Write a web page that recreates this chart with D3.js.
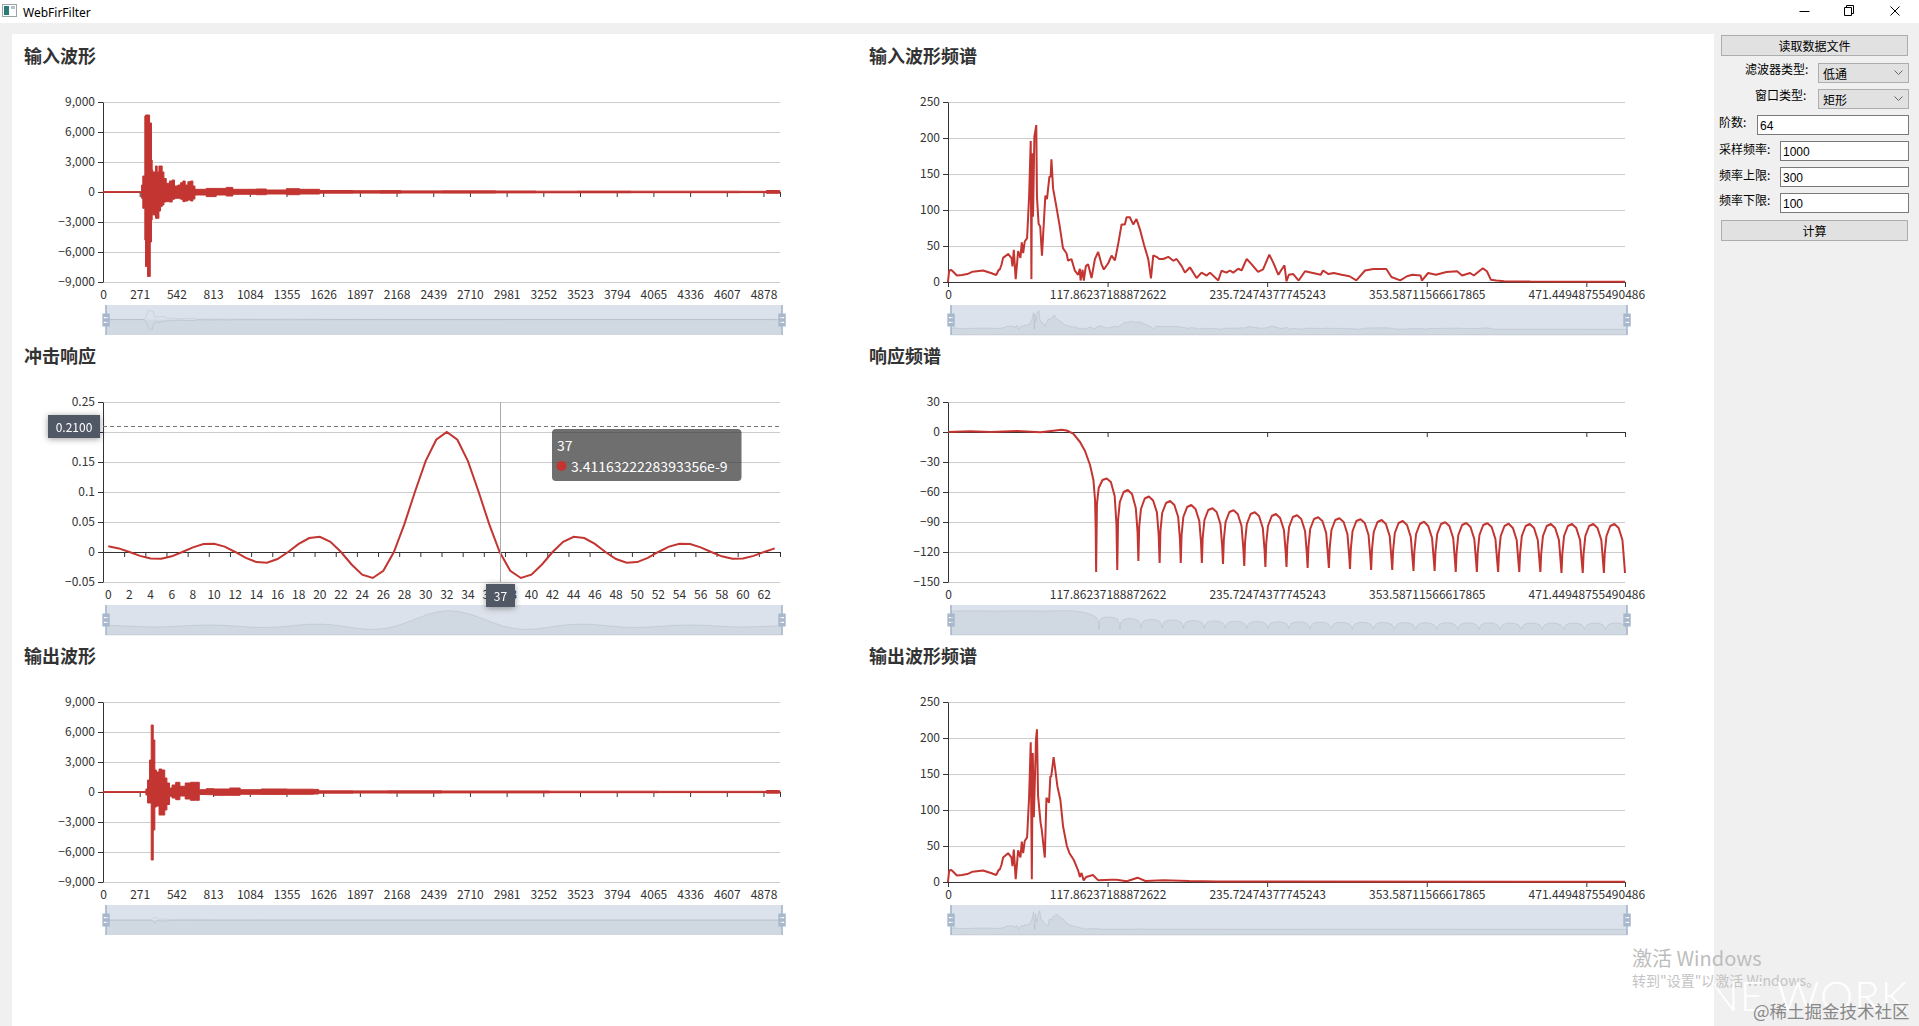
<!DOCTYPE html>
<html>
<head>
<meta charset="utf-8">
<title>WebFirFilter</title>
<script src="https://cdn.jsdelivr.net/npm/d3@7"></script>
<style>
  html, body { margin: 0; padding: 0; width: 1919px; height: 1026px; overflow: hidden; background: #f0f0f0; }
  body { position: relative; font: 12px 'Noto Sans CJK SC', sans-serif; color: #000; }
  #page { position: absolute; left: 12px; top: 34px; width: 1702px; height: 992px; background: #fff; }
  #bar { position: absolute; left: 0; top: 0; width: 1919px; height: 23px; background: #fff; }
  #chart { position: absolute; left: 0; top: 0; }
  .ui { position: absolute; box-sizing: border-box; line-height: 1; white-space: nowrap; }
  .btn { left: 1721px; width: 187px; height: 21px; background: #e1e1e1; border: 1px solid #adadad; text-align: center; line-height: 19px; }
  .sel { left: 1818px; width: 91px; height: 20px; background: #e1e1e1; border: 1px solid #adadad; padding-left: 4px; line-height: 20px; }
  .sel svg { position: absolute; right: 5px; top: 6px; }
  .inp { width: auto; right: 10px; height: 20px; background: #fff; border: 1px solid #7a7a7a; padding-left: 2px; line-height: 20px; font-family: 'Liberation Sans', sans-serif; }
  .lbl { height: 14px; line-height: 14px; }
</style>
</head>
<body>
<div id="bar"></div>
<div id="page"></div>
<svg id="chart" width="1919" height="1026"></svg>

<div class="ui btn" style="top:35px">读取数据文件</div>
<div class="ui lbl" style="left:1745px;top:62px">滤波器类型:</div>
<div class="ui sel" style="top:63px">低通<svg width="9" height="6"><path d="M0.5,0.5l4,4l4,-4" fill="none" stroke="#666"/></svg></div>
<div class="ui lbl" style="left:1755px;top:88px">窗口类型:</div>
<div class="ui sel" style="top:89px">矩形<svg width="9" height="6"><path d="M0.5,0.5l4,4l4,-4" fill="none" stroke="#666"/></svg></div>
<div class="ui lbl" style="left:1719px;top:115px">阶数:</div>
<div class="ui inp" style="left:1757px;top:115px">64</div>
<div class="ui lbl" style="left:1719px;top:142px">采样频率:</div>
<div class="ui inp" style="left:1780px;top:141px">1000</div>
<div class="ui lbl" style="left:1719px;top:168px">频率上限:</div>
<div class="ui inp" style="left:1780px;top:167px">300</div>
<div class="ui lbl" style="left:1719px;top:193px">频率下限:</div>
<div class="ui inp" style="left:1780px;top:193px">100</div>
<div class="ui btn" style="top:220px">计算</div>

<script>
// ---- data ----

const waveTicks = [0, 271, 542, 813, 1084, 1355, 1626, 1897, 2168, 2439, 2710, 2981, 3252, 3523, 3794, 4065, 4336, 4607, 4878];
const waveYTicks = [-9000, -6000, -3000, 0, 3000, 6000, 9000];

// input waveform is too dense to read sample by sample, so upper and lower envelope
const inputIdx = [
  0, 280, 285, 294, 309, 314, 329, 344, 349, 358,
  363, 368, 373, 388, 400, 413, 425, 437, 450, 467,
  491, 511, 528, 553, 573, 590, 607, 627, 647, 664,
  679, 713, 762, 836, 910, 959, 1058, 1132, 1206, 1354,
  1452, 1538, 1600, 1846, 2043, 2200, 2500, 2900, 3200, 3500,
  3900, 4300, 4700, 4880, 4900, 4990, 5000];
const inputHi = [
  40, 40, 700, 1600, 7600, 7700, 7700, 6900, 6900, 3200,
  2200, 2000, 2000, 2600, 2000, 2600, 2600, 2000, 1350, 870,
  1100, 1200, 600, 700, 930, 1100, 700, 1030, 1100, 600,
  270, 270, 360, 360, 460, 270, 270, 300, 200, 330,
  270, 270, 150, 130, 140, 110, 120, 100, 80, 90,
  80, 80, 70, 70, 150, 130, 30];
const inputLo = [
  -40, -40, -630, -1630, -4800, -7450, -8450, -8450, -5000, -2800,
  -2300, -2130, -2300, -2630, -2630, -1900, -1460, -1300, -1000, -960,
  -1000, -730, -630, -630, -730, -960, -900, -800, -900, -700,
  -300, -300, -460, -300, -400, -230, -230, -270, -200, -270,
  -200, -200, -120, -110, -120, -100, -110, -90, -80, -80,
  -70, -70, -60, -60, -130, -120, -30];

const outputIdx = [
  0, 317, 329, 344, 356, 371, 383, 394, 414, 433,
  456, 472, 491, 510, 537, 568, 607, 646, 684, 711,
  762, 820, 936, 1013, 1168, 1361, 1555, 1593, 1846, 2100,
  2500, 2900, 3300, 3700, 4100, 4500, 4880, 4900, 4990, 5000];
const outputHi = [
  40, 300, 1200, 3200, 6700, 5200, 2200, 2000, 2300, 2200,
  1400, 900, 400, 700, 970, 570, 900, 970, 970, 230,
  330, 300, 400, 230, 300, 280, 260, 120, 110, 120,
  100, 100, 80, 80, 70, 70, 70, 150, 120, 30];
const outputLo = [
  -40, -300, -1100, -1100, -6800, -3800, -1500, -1400, -2300, -2300,
  -1800, -1250, -430, -600, -770, -400, -700, -830, -830, -250,
  -270, -330, -330, -230, -240, -230, -200, -120, -100, -110,
  -90, -90, -70, -70, -60, -60, -60, -120, -100, -30];

const freqLabels = ['0', '117.86237188872622', '235.72474377745243', '353.58711566617865', '471.44948755490486'];
const freqTicks = [0, 117.86237188872622, 235.72474377745243, 353.58711566617865, 471.44948755490486];
const specYTicks = [0, 50, 100, 150, 200, 250];

const inSpecFreq = [
  0, 0.8, 1.9, 3.5, 6.6, 10.4, 14.3, 18.2, 25.9, 31.7, 35.6, 37.5, 38.2, 39.5, 40.7, 44.4, 46.9, 47.6, 48.6, 50,
  51.8, 53.5, 54.5, 55.5, 56.7, 58.4, 59.9, 61.1, 61.6, 62.1, 62.8, 63.8, 65.2, 65.7, 66.9, 68.1, 69.4, 71.9, 73.1, 74.9,
  75.8, 76.4, 77.6, 80, 82.5, 84.9, 87.5, 88.7, 91.2, 93.7, 96.1, 97.4, 97.9, 99.4, 100.3, 101.8, 103.5, 106, 108.5, 110.9,
  113.4, 115.1, 118.3, 120.8, 123.3, 125.8, 128.2, 130.6, 131.9, 134.3, 136.8, 139.2, 141.7, 144.7, 147.9, 149.9, 151.6, 154, 156, 159,
  162.7, 166.4, 168.8, 172.6, 175, 177.5, 178.7, 183.6, 187.3, 191, 193.5, 199.6, 202, 205.7, 208.2, 210.6, 214.4, 216.8, 220.6, 224.3,
  229, 232.7, 237.3, 240.3, 244, 246.4, 248.5, 250, 251.7, 255, 259, 263.7, 269.5, 275.3, 277, 281, 284.9, 290.7, 296.5, 301.6,
  308, 314.1, 323.7, 327.5, 334, 339, 342.9, 349, 350, 354.6, 360.4, 368.1, 376, 379.7, 385.6, 388.3, 395, 398, 401, 405,
  410.8, 430, 500];
const inSpecAmp = [
  0, 15, 17, 15, 9, 9.7, 11, 14.3, 16, 12.5, 9.7, 17, 17, 24, 33.5, 39, 33, 21.8, 44.6, 4,
  43, 33.5, 55, 40, 56.3, 61, 118.6, 196, 4, 178.8, 90.6, 202, 218, 118, 81, 77, 36.5, 120, 115, 146.5,
  146, 170.5, 130, 105, 77.5, 47, 40, 29.6, 31.8, 15.7, 10, 18.4, 2, 17, 2, 22, 24.5, 5.5, 31.8, 41.8,
  24.5, 17.4, 26, 36.6, 30, 54, 80, 80, 90, 90, 80, 87.5, 73.5, 52, 31.8, 5, 37, 35, 32, 32,
  35, 29.5, 32, 22, 13, 18, 20.3, 5.5, 13, 9, 13, 2, 15.7, 13, 16, 13, 18.4, 16, 32, 24.5,
  14, 17.4, 38, 26.5, 10, 17.4, 23, 1, 10, 11, 2, 15, 12.5, 10, 16, 11, 12.5, 10, 8, 2.3,
  16, 18, 18, 7, 2.3, 8, 10, 9, 2, 12.5, 10, 14, 15, 9, 12.5, 9, 19, 15, 3, 2,
  1, 0.6, 0.4];

const outSpecFreq = [
  0, 0.8, 1.9, 3.5, 6.6, 10.4, 14.3, 18.2, 25.9, 31.7, 35.6, 37.5, 38.2, 39.5, 40.7, 44.4, 46.9, 47.6, 48.6, 50,
  51.8, 53.5, 54.5, 55.5, 56.7, 58.4, 59.9, 61.1, 61.9, 62.6, 63.4, 65, 65.7, 66.5, 68.4, 69.2, 71.5, 72.7, 74.6, 75.6,
  76.2, 78, 80.8, 83, 85, 87.8, 89.7, 92.8, 96.3, 97.4, 98.6, 100.2, 102, 107, 111, 120.6, 124.5, 132, 140, 145.8,
  159, 178, 198, 500];
const outSpecAmp = [
  0, 15, 17, 15, 9, 9.7, 11, 14.3, 16, 12.5, 9.7, 17, 17, 24, 34, 40, 34, 22, 45, 4,
  44, 34, 56, 40, 57, 62, 118, 194, 4, 179, 90, 198, 212, 120, 82, 73, 34, 117, 110, 147,
  146, 173.6, 133, 114, 77, 50, 40, 31, 15, 7, 12.5, 2.3, 7, 9.7, 2.3, 3, 3, 1, 6, 1.4,
  2.3, 1.4, 0.8, 0.4];

const respYTicks = [-150, -120, -90, -60, -30, 0, 30];
// passband first, then one row per side lobe: null, rise, peak, fall
const respFreq = [
  0, 16.2, 31.7, 51, 68.4, 83.9, 87.6, 92.5, 97.5, 101.2, 104.9, 107.4, 108.6, 109.1,
  109.4, 110, 111.3, 114.1, 117.2, 120.3, 123.1, 124.4,
  125, 125.6, 126.9, 129.7, 132.8, 135.9, 138.7, 140,
  140.6, 141.2, 142.5, 145.3, 148.4, 151.5, 154.3, 155.6,
  156.3, 156.9, 158.2, 161, 164.1, 167.2, 170, 171.3,
  171.9, 172.5, 173.8, 176.6, 179.7, 182.8, 185.6, 186.9,
  187.5, 188.1, 189.4, 192.2, 195.3, 198.4, 201.2, 202.5,
  203.1, 203.7, 205, 207.8, 210.9, 214, 216.8, 218.1,
  218.8, 219.4, 220.7, 223.5, 226.6, 229.7, 232.5, 233.8,
  234.4, 235, 236.3, 239.1, 242.2, 245.3, 248.1, 249.4,
  250, 250.6, 251.9, 254.7, 257.8, 260.9, 263.7, 265,
  265.6, 266.2, 267.5, 270.3, 273.4, 276.5, 279.3, 280.6,
  281.3, 281.9, 283.2, 286, 289.1, 292.2, 295, 296.3,
  296.9, 297.5, 298.8, 301.6, 304.7, 307.8, 310.6, 311.9,
  312.5, 313.1, 314.4, 317.2, 320.3, 323.4, 326.2, 327.5,
  328.1, 328.7, 330, 332.8, 335.9, 339, 341.8, 343.1,
  343.8, 344.4, 345.7, 348.5, 351.6, 354.7, 357.5, 358.8,
  359.4, 360, 361.3, 364.1, 367.2, 370.3, 373.1, 374.4,
  375, 375.6, 376.9, 379.7, 382.8, 385.9, 388.7, 390,
  390.6, 391.2, 392.5, 395.3, 398.4, 401.5, 404.3, 405.6,
  406.3, 406.9, 408.2, 411, 414.1, 417.2, 420, 421.3,
  421.9, 422.5, 423.8, 426.6, 429.7, 432.8, 435.6, 436.9,
  437.5, 438.1, 439.4, 442.2, 445.3, 448.4, 451.2, 452.5,
  453.1, 453.7, 455, 457.8, 460.9, 464, 466.8, 468.1,
  468.8, 469.4, 470.7, 473.5, 476.6, 479.7, 482.5, 483.8,
  484.4, 485, 486.3, 489.1, 492.2, 495.3, 498.1, 499.4,
  500];
const respDb = [
  0, 0.7, 0, 1, -0.3, 2.3, 1.5, -1.7, -10, -19, -33, -48, -68, -98,
  -140, -72, -56, -48, -46.5, -50, -64, -92,
  -138, -88, -70, -60, -58, -62, -76, -100,
  -129, -95, -77, -66.5, -64.5, -68.5, -80.5, -103,
  -131, -99, -81, -71, -69, -73, -85, -107,
  -131, -103, -85, -75, -73, -77, -89, -111,
  -131, -106, -88, -78, -76.3, -80, -92, -114,
  -132, -108, -90, -80, -78.3, -82, -94, -116,
  -134, -110, -92, -82, -80.3, -84, -96, -118,
  -135, -112, -94, -84, -82, -86, -98, -120,
  -135, -113, -95, -85, -83.3, -87, -99, -121,
  -136, -115, -97, -87, -85.3, -89, -101, -123,
  -136, -116, -98, -88, -86.3, -90, -102, -124,
  -137, -117, -99, -89, -87.3, -91, -103, -125,
  -138, -118, -100, -90, -88, -92, -104, -126,
  -138, -119, -101, -91, -89, -93, -105, -127,
  -139, -120, -102, -92, -89.7, -94, -106, -128,
  -139, -120, -102, -92, -90.3, -94, -106, -128,
  -140, -121, -103, -93, -91, -95, -107, -129,
  -140, -121, -103, -93, -91.3, -95, -107, -129,
  -140, -122, -104, -94, -91.7, -96, -108, -130,
  -140, -122, -104, -94, -92, -96, -108, -130,
  -140, -122, -104, -94, -92, -96, -108, -130,
  -141, -122, -104, -94, -92, -96, -108, -130,
  -141, -122, -104, -94, -92, -96, -108, -130,
  -141, -122, -104, -94, -92, -96, -108, -130,
  -141];

const impulseYTicks = [-0.05, 0, 0.05, 0.1, 0.15, 0.2, 0.25];
const impulse = [
  0.0095, 0.006, 0, -0.0065, -0.0108, -0.0112, -0.0072, 0, 0.0078, 0.0132,
  0.0138, 0.0089, 0, -0.0098, -0.0168, -0.0178, -0.0117, 0, 0.0134, 0.0233,
  0.0252, 0.017, 0, -0.0208, -0.0378, -0.0433, -0.0312, 0, 0.0468, 0.1009,
  0.1514, 0.1871, 0.2, 0.1871, 0.1514, 0.1009, 0.0468, 0, -0.0312, -0.0433,
  -0.0378, -0.0208, 0, 0.017, 0.0252, 0.0233, 0.0134, 0, -0.0117, -0.0178,
  -0.0168, -0.0098, 0, 0.0089, 0.0138, 0.0132, 0.0078, 0, -0.0072, -0.0112,
  -0.0108, -0.0065, 0, 0.006];

// ---- layout ----

const svg = d3.select('#chart');
const font = "'Noto Sans CJK SC', 'Noto Sans', sans-serif";
const red = '#c23531';
const plotW = 677, plotH = 180;
const colX = [103, 948], rowY = [102, 402, 702], titleX = [24, 869];
const handleIcon = 'M8.2,13.6V3.9H6.3v9.7H3.1v14.9h3.3v9.7h1.8v-9.7h3.3V13.6H8.2z M9.7,24.4H4.8v-1.4h4.9V24.4z M9.7,19.1H4.8v-1.4h4.9V19.1z';

function panel(col, row, title) {
  svg.append('text')
    .attr('x', titleX[col]).attr('y', rowY[row] - 47)
    .attr('dominant-baseline', 'central')
    .attr('font-family', font).attr('font-size', 18).attr('font-weight', 700).attr('fill', '#333')
    .text(title);
  return svg.append('g').attr('transform', `translate(${colX[col]},${rowY[row]})`);
}

function yAxis(g, y, ticks, fmt) {
  g.append('g')
    .call(d3.axisLeft(y).tickValues(ticks).tickSize(-plotW).tickFormat(''))
    .call(a => a.select('.domain').remove())
    .selectAll('line').attr('stroke', '#ccc');
  g.append('g')
    .call(d3.axisLeft(y).tickValues(ticks).tickSize(5).tickPadding(3).tickSizeOuter(0).tickFormat(fmt))
    .attr('color', '#333').attr('font-family', font).attr('font-size', 12);
}

// ticks sit on the zero line, labels stay under the plot
function xAxis(g, zeroY, tickScale, tickVals, labelScale, labelVals, labelFmt) {
  g.append('g')
    .attr('transform', `translate(0,${zeroY})`).attr('color', '#333')
    .call(d3.axisBottom(tickScale).tickValues(tickVals).tickSize(5).tickSizeOuter(0).tickFormat(''));
  g.append('g')
    .attr('transform', `translate(0,${plotH})`)
    .call(d3.axisBottom(labelScale).tickValues(labelVals).tickSize(0).tickPadding(8).tickFormat(labelFmt))
    .attr('color', '#333').attr('font-family', font).attr('font-size', 12)
    .call(a => a.select('.domain').remove());
}

function sliderFrame(g) {
  return g.append('g').attr('transform', `translate(3,${plotH + 23})`);
}

function sliderTop(s) {
  const w = plotW - 1, h = 30, k = h / 34.3;
  s.append('rect').attr('width', w).attr('height', h).attr('fill', 'rgba(167,183,204,0.4)');
  [0, w].forEach(edge => {
    s.append('path')
      .attr('d', handleIcon)
      .attr('fill', '#a7b7cc')
      .attr('transform', `translate(${edge - 7.25 * k},${-3.9 * k}) scale(${k})`);
  });
}

// line chart over a list of x and y values
function lineOverview(g, xs, ys, xDomain) {
  const s = sliderFrame(g);
  const [lo, hi] = d3.extent(ys);
  const pad = (hi - lo) * 0.3;
  const mx = d3.scaleLinear(xDomain, [0, plotW - 1]);
  const my = d3.scaleLinear([lo - pad, hi + pad], [30, 0]);
  s.append('path')
    .attr('d', d3.area().x((d, i) => mx(xs[i])).y0(30).y1(d => my(d))(ys))
    .attr('fill', 'rgba(47,69,84,0.09)')
    .attr('stroke', 'rgba(47,69,84,0.15)').attr('stroke-width', 1);
  sliderTop(s);
}

function waveOverview(g, idx, hi, lo, yDomain) {
  const s = sliderFrame(g);
  const mx = d3.scaleLinear([0, 5000], [0, plotW - 1]);
  const my = d3.scaleLinear(yDomain, [30, 0]);
  s.append('path')
    .attr('d', d3.area().x((d, i) => mx(idx[i])).y0(30).y1(my(0))(hi))
    .attr('fill', 'rgba(47,69,84,0.09)');
  [hi, lo].forEach(vals => {
    s.append('path')
      .attr('d', d3.line().x((d, i) => mx(idx[i])).y(d => my(d))(vals))
      .attr('fill', 'none').attr('stroke', 'rgba(47,69,84,0.14)').attr('stroke-width', 1);
  });
  sliderTop(s);
}

function wavePanel(col, row, title, idx, hi, lo, overviewDomain) {
  const g = panel(col, row, title);
  const x = d3.scaleLinear([0, 5000], [0, plotW]);
  const y = d3.scaleLinear([-9000, 9000], [plotH, 0]);
  yAxis(g, y, waveYTicks, d3.format(','));
  xAxis(g, y(0), x, [...waveTicks, 5000], x, waveTicks, d3.format('d'));
  g.append('path')
    .attr('d', d3.area().curve(d3.curveStepAfter)
      .x((d, i) => x(idx[i])).y0((d, i) => y(lo[i])).y1(d => y(d))(hi))
    .attr('fill', red).attr('stroke', red).attr('stroke-width', 1);
  waveOverview(g, idx, hi, lo, overviewDomain);
}

function freqPanel(col, row, title, xs, ys, yDomain, yTicks) {
  const g = panel(col, row, title);
  const x = d3.scaleLinear([0, 500], [0, plotW]);
  const y = d3.scaleLinear(yDomain, [plotH, 0]);
  yAxis(g, y, yTicks, d3.format('d'));
  xAxis(g, y(0), x, [...freqTicks, 500], x, freqTicks, (d, i) => freqLabels[i]);
  g.append('path')
    .attr('d', d3.line().x((d, i) => x(xs[i])).y(d => y(d))(ys))
    .attr('fill', 'none').attr('stroke', red).attr('stroke-width', 2).attr('stroke-linejoin', 'bevel');
  lineOverview(g, xs, ys, [0, 500]);
}

function impulsePanel(col, row, title) {
  const g = panel(col, row, title);
  const idx = d3.range(impulse.length);
  const band = d3.scaleBand(idx, [0, plotW]);
  const edge = d3.scaleLinear([0, impulse.length], [0, plotW]);
  const y = d3.scaleLinear([-0.05, 0.25], [plotH, 0]);
  yAxis(g, y, impulseYTicks, d3.format('~g'));
  xAxis(g, y(0), edge, d3.range(0, 65, 2), band, d3.range(0, 64, 2), d3.format('d'));
  g.append('path')
    .attr('d', d3.line().x((d, i) => band(i) + band.bandwidth() / 2).y(d => y(d))(impulse))
    .attr('fill', 'none').attr('stroke', red).attr('stroke-width', 2);
  lineOverview(g, idx, impulse, [0, impulse.length - 1]);

  // hover state in the screenshot: crosshair at sample 37, y pointer at 0.21
  const hoverIdx = 37, hoverY = 0.21;
  const px = Math.round(band(hoverIdx) + band.bandwidth() / 2) + 0.5;
  const py = Math.round(y(hoverY)) + 0.5;
  g.append('line').attr('x1', px).attr('x2', px).attr('y1', 0).attr('y2', plotH).attr('stroke', '#aaa');
  g.append('line').attr('x1', 0).attr('x2', plotW).attr('y1', py).attr('y2', py)
    .attr('stroke', '#777').attr('stroke-dasharray', '4 3');

  const pointerLabel = (cx, cy, w, h, txt) => {
    const l = g.append('g').style('filter', 'drop-shadow(0 1px 3px rgba(0,0,0,0.4))');
    l.append('rect').attr('x', cx - w / 2).attr('y', cy - h / 2).attr('width', w).attr('height', h).attr('fill', '#505765');
    l.append('text').attr('x', cx).attr('y', cy).attr('text-anchor', 'middle').attr('dominant-baseline', 'central')
      .attr('font-family', font).attr('font-size', 12).attr('fill', '#fff').text(txt);
  };
  pointerLabel(-29, py, 52, 23, d3.format('.4f')(hoverY));
  pointerLabel(px, plotH + 13.5, 29, 23, String(hoverIdx));

  const tip = g.append('g').attr('transform', `translate(${px + 51.5},${27})`);
  tip.append('rect').attr('width', 189.5).attr('height', 52).attr('rx', 4).attr('fill', 'rgba(50,50,50,0.7)');
  tip.append('text').attr('x', 5).attr('y', 16).attr('dominant-baseline', 'central')
    .attr('font-family', font).attr('font-size', 14).attr('fill', '#fff').text(String(hoverIdx));
  tip.append('circle').attr('cx', 9.5).attr('cy', 37).attr('r', 5).attr('fill', red);
  tip.append('text').attr('x', 19).attr('y', 37).attr('dominant-baseline', 'central')
    .attr('font-family', font).attr('font-size', 14).attr('fill', '#fff').text('3.4116322228393356e-9');
}

wavePanel(0, 0, '输入波形', inputIdx, inputHi, inputLo, [-13360, 12560]);
freqPanel(1, 0, '输入波形频谱', inSpecFreq, inSpecAmp, [0, 250], specYTicks);
impulsePanel(0, 1, '冲击响应');
freqPanel(1, 1, '响应频谱', respFreq, respDb, [-150, 30], respYTicks);
wavePanel(0, 2, '输出波形', outputIdx, outputHi, outputLo, [-34000, 34000]);
freqPanel(1, 2, '输出波形频谱', outSpecFreq, outSpecAmp, [0, 250], specYTicks);

// ---- window chrome ----

const chrome = svg.append('g');
chrome.append('rect').attr('x', 2.5).attr('y', 4.5).attr('width', 14).attr('height', 12).attr('fill', '#fff').attr('stroke', '#9aa5a8');
chrome.append('rect').attr('x', 4).attr('y', 6).attr('width', 5).attr('height', 9).attr('fill', '#2b7a78');
chrome.append('rect').attr('x', 11).attr('y', 6).attr('width', 4).attr('height', 3).attr('fill', '#b7c4c6');
chrome.append('text').attr('x', 23).attr('y', 12).attr('dominant-baseline', 'central')
  .attr('font-family', "'Noto Sans', sans-serif").attr('font-size', 12).attr('fill', '#000').text('WebFirFilter');
chrome.append('path').attr('d', 'M1799.5,11.5h10').attr('stroke', '#000').attr('fill', 'none');
chrome.append('path').attr('d', 'M1844.5,7.5h7v8h-7z M1846.5,7.5v-2h7v8h-2').attr('stroke', '#000').attr('fill', 'none');
chrome.append('path').attr('d', 'M1890.5,6.5l9,9 M1899.5,6.5l-9,9').attr('stroke', '#000').attr('fill', 'none');

// ---- watermarks on top of the screenshot ----

const marks = svg.append('g').attr('dominant-baseline', 'central');
marks.append('text').attr('x', 1632).attr('y', 957).attr('font-family', "'Noto Sans CJK SC'").attr('font-size', 20)
  .attr('fill', '#bdbdbd').text('激活 Windows');
marks.append('text').attr('x', 1632).attr('y', 980).attr('font-family', "'Noto Sans CJK SC'").attr('font-size', 14)
  .attr('fill', '#c4c4c4').text('转到"设置"以激活 Windows。');
marks.append('text').attr('x', 1707).attr('y', 995).attr('font-family', 'Lato').attr('font-weight', 300).attr('font-size', 42)
  .attr('letter-spacing', 1).attr('fill', '#fff').text('NE WORK');
marks.append('text').attr('x', 1753).attr('y', 1010).attr('font-family', "'Noto Sans CJK SC'").attr('font-size', 17.5)
  .attr('fill', '#888').text('@稀土掘金技术社区');
</script>
</body>
</html>
